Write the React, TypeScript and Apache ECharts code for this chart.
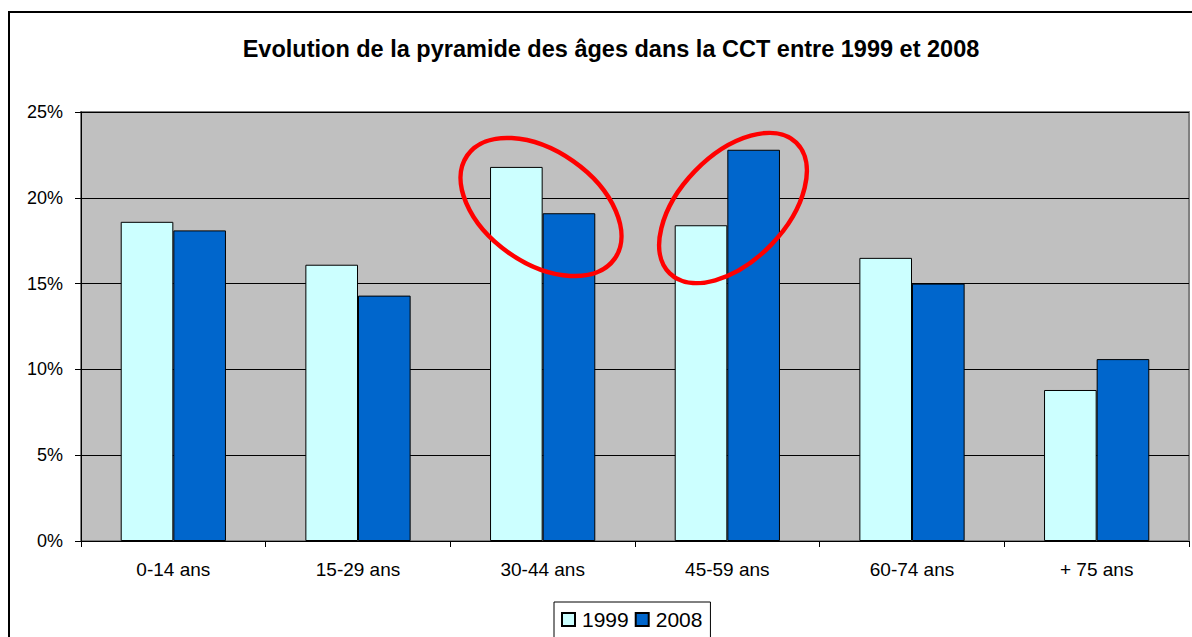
import React, { useEffect, useRef } from "react";
import * as echarts from "echarts";

const categories = ["0-14 ans", "15-29 ans", "30-44 ans", "45-59 ans", "60-74 ans", "+ 75 ans"];
const values1999 = [18.6, 16.1, 21.8, 18.4, 16.5, 8.8];
const values2008 = [18.1, 14.3, 19.1, 22.8, 15.0, 10.6];
const yTicks = [0, 5, 10, 15, 20, 25];

export default function App() {
  const ref = useRef<HTMLDivElement>(null);
  useEffect(() => {
    if (!ref.current) return;
    const chart = echarts.init(ref.current, null, { renderer: "svg" });
    const font = "'Liberation Sans', Arial, sans-serif";
    chart.setOption({
      animation: false,
      backgroundColor: "#ffffff",
      textStyle: { fontFamily: font },
      title: {
        text: "Evolution de la pyramide des âges dans la CCT entre 1999 et 2008",
        left: 606,
        textAlign: "center",
        top: 32,
        textStyle: { fontFamily: font, fontSize: 23.5, fontWeight: "bold", color: "#000" },
      },
      grid: {
        left: 81,
        top: 112,
        width: 1108,
        height: 429,
        show: true,
        backgroundColor: "#C0C0C0",
        borderColor: "#808080",
        borderWidth: 2,
      },
      legend: {
        left: 554,
        top: 602,
        itemGap: 6,
        itemWidth: 13,
        itemHeight: 13,
        borderColor: "#000",
        borderWidth: 1,
        padding: [7, 8, 30, 7],
        icon: "rect",
        textStyle: { fontFamily: font, fontSize: 21, color: "#000", padding: [0, 0, 0, 2] },
        data: ["1999", "2008"],
      },
      xAxis: {
        type: "category",
        data: categories,
        axisLine: { show: true, lineStyle: { color: "#000", width: 1 } },
        axisTick: { show: true, length: 6, lineStyle: { color: "#000" } },
        axisLabel: { fontFamily: font, fontSize: 19, color: "#000", margin: 19 },
        splitLine: { show: false },
      },
      yAxis: {
        type: "value",
        min: yTicks[0],
        max: yTicks[yTicks.length - 1],
        interval: 5,
        axisLine: { show: true, lineStyle: { color: "#000", width: 1 } },
        axisTick: { show: true, length: 6, lineStyle: { color: "#000" } },
        axisLabel: { fontFamily: font, fontSize: 18, color: "#000", margin: 18, formatter: "{value}%" },
        splitLine: { show: true, lineStyle: { color: "#000", width: 1 } },
      },
      series: [
        {
          name: "1999",
          type: "bar",
          data: values1999,
          barGap: "0%",
          barCategoryGap: "43%",
          itemStyle: { color: "#CCFFFF", borderColor: "#000", borderWidth: 1 },
        },
        {
          name: "2008",
          type: "bar",
          data: values2008,
          barGap: "0%",
          barCategoryGap: "43%",
          itemStyle: { color: "#0066CC", borderColor: "#000", borderWidth: 1 },
        },
      ],
      graphic: [
        {
          type: "rect",
          shape: { x: 9, y: 12, width: 1400, height: 800 },
          style: { fill: "none", stroke: "#000", lineWidth: 2 },
          silent: true,
          z: 100,
        },
        {
          type: "ellipse",
          x: 541,
          y: 207,
          rotation: -35 * Math.PI / 180,
          shape: { cx: 0, cy: 0, rx: 90, ry: 56 },
          style: { fill: "none", stroke: "#FF0000", lineWidth: 4.5 },
          z: 100,
        },
        {
          type: "ellipse",
          x: 733,
          y: 208,
          rotation: 46 * Math.PI / 180,
          shape: { cx: 0, cy: 0, rx: 91, ry: 53 },
          style: { fill: "none", stroke: "#FF0000", lineWidth: 4.5 },
          z: 100,
        },
      ],
    });
    return () => chart.dispose();
  }, []);
  return (
    <div
      ref={ref}
      style={{ position: "fixed", left: 0, top: 0, width: 1192, height: 637 }}
    />
  );
}
